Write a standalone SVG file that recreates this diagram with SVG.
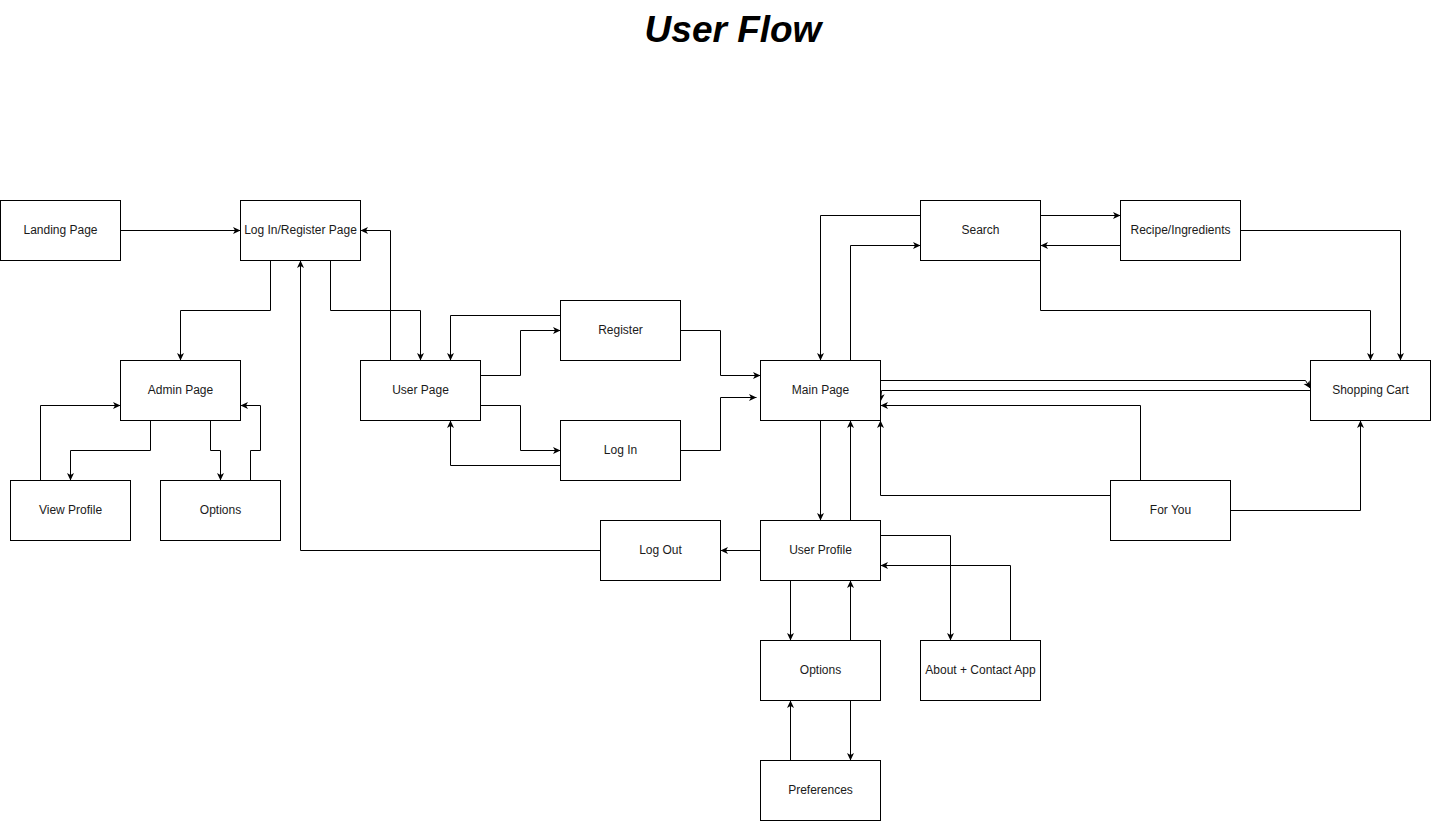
<svg xmlns="http://www.w3.org/2000/svg" width="1432" height="821" viewBox="0 0 1432 821">
  <style>
    .box rect { fill: #ffffff; stroke: #000000; stroke-width: 1; }
    .box text { font-family: "Liberation Sans", Arial, sans-serif; font-size: 12px; fill: #1a1a1a; text-anchor: middle; dominant-baseline: central; }
    .edges path { fill: none; stroke: #000000; stroke-width: 1; marker-end: url(#arrow); }
    .title { font-family: "Liberation Sans", Arial, sans-serif; font-size: 37px; font-weight: bold; font-style: italic; text-anchor: middle; fill: #000000; }
  </style>
  <defs>
    <marker id="arrow" viewBox="0 0 8 8" refX="7.5" refY="4" markerWidth="8" markerHeight="8" orient="auto" markerUnits="userSpaceOnUse">
      <path d="M0,0.5 L7.5,4 L0,7.5 L2,4 z" fill="#000000"/>
    </marker>
  </defs>
  <rect width="1432" height="821" fill="#ffffff"/>
  <text class="title" x="733" y="42">User Flow</text>

  <g transform="translate(0.5,0.5)">
    <g class="edges" id="connectors">
      <!-- entry and authentication -->
      <path d="M120,230 H240"/>
      <path d="M270,260 V310 H180 V360"/>
      <path d="M330,260 V310 H420 V360"/>
      <path d="M390,360 V230 H360"/>
      <!-- admin area -->
      <path d="M150,420 V450 H70 V480"/>
      <path d="M40,480 V405 H120"/>
      <path d="M210,420 V450 H220 V480"/>
      <path d="M250,480 V450 H260 V405 H240"/>
      <!-- user page -->
      <path d="M480,375 H520 V330 H560"/>
      <path d="M560,315 H450 V360"/>
      <path d="M480,405 H520 V450 H560"/>
      <path d="M560,465 H450 V420"/>
      <path d="M680,330 H720 V375 H760"/>
      <path d="M680,450 H720 V397 H756"/>
      <!-- main page and search -->
      <path d="M920,215 H820 V360"/>
      <path d="M850,360 V245 H920"/>
      <path d="M1040,215 H1120"/>
      <path d="M1120,245 H1040"/>
      <path d="M1040,260 V310 H1370 V360"/>
      <path d="M1240,230 H1400 V360"/>
      <!-- shopping cart and for you -->
      <path d="M880,380 H1305 L1310,388"/>
      <path d="M1310,390 H881 L880,401"/>
      <path d="M1140,480 V405 H880"/>
      <path d="M1110,495 H880 V420"/>
      <path d="M1230,510 H1360 V420"/>
      <!-- user profile -->
      <path d="M820,420 V520"/>
      <path d="M850,520 V420"/>
      <path d="M760,550 H720"/>
      <path d="M600,550 H300 V260"/>
      <path d="M880,535 H950 V640"/>
      <path d="M1010,640 V565 H880"/>
      <path d="M790,580 V640"/>
      <path d="M850,640 V580"/>
      <path d="M850,700 V760"/>
      <path d="M790,760 V700"/>
    </g>

    <g id="landing-page" class="box"><rect x="0" y="200" width="120" height="60"/><text x="60" y="229">Landing Page</text></g>
    <g id="login-register-page" class="box"><rect x="240" y="200" width="120" height="60"/><text x="300" y="229">Log In/Register Page</text></g>
    <g id="admin-page" class="box"><rect x="120" y="360" width="120" height="60"/><text x="180" y="389">Admin Page</text></g>
    <g id="view-profile" class="box"><rect x="10" y="480" width="120" height="60"/><text x="70" y="509">View Profile</text></g>
    <g id="admin-options" class="box"><rect x="160" y="480" width="120" height="60"/><text x="220" y="509">Options</text></g>
    <g id="user-page" class="box"><rect x="360" y="360" width="120" height="60"/><text x="420" y="389">User Page</text></g>
    <g id="register" class="box"><rect x="560" y="300" width="120" height="60"/><text x="620" y="329">Register</text></g>
    <g id="log-in" class="box"><rect x="560" y="420" width="120" height="60"/><text x="620" y="449">Log In</text></g>
    <g id="main-page" class="box"><rect x="760" y="360" width="120" height="60"/><text x="820" y="389">Main Page</text></g>
    <g id="search" class="box"><rect x="920" y="200" width="120" height="60"/><text x="980" y="229">Search</text></g>
    <g id="recipe-ingredients" class="box"><rect x="1120" y="200" width="120" height="60"/><text x="1180" y="229">Recipe/Ingredients</text></g>
    <g id="shopping-cart" class="box"><rect x="1310" y="360" width="120" height="60"/><text x="1370" y="389">Shopping Cart</text></g>
    <g id="for-you" class="box"><rect x="1110" y="480" width="120" height="60"/><text x="1170" y="509">For You</text></g>
    <g id="user-profile" class="box"><rect x="760" y="520" width="120" height="60"/><text x="820" y="549">User Profile</text></g>
    <g id="log-out" class="box"><rect x="600" y="520" width="120" height="60"/><text x="660" y="549">Log Out</text></g>
    <g id="user-options" class="box"><rect x="760" y="640" width="120" height="60"/><text x="820" y="669">Options</text></g>
    <g id="about-contact" class="box"><rect x="920" y="640" width="120" height="60"/><text x="980" y="669">About + Contact App</text></g>
    <g id="preferences" class="box"><rect x="760" y="760" width="120" height="60"/><text x="820" y="789">Preferences</text></g>
  </g>
</svg>
